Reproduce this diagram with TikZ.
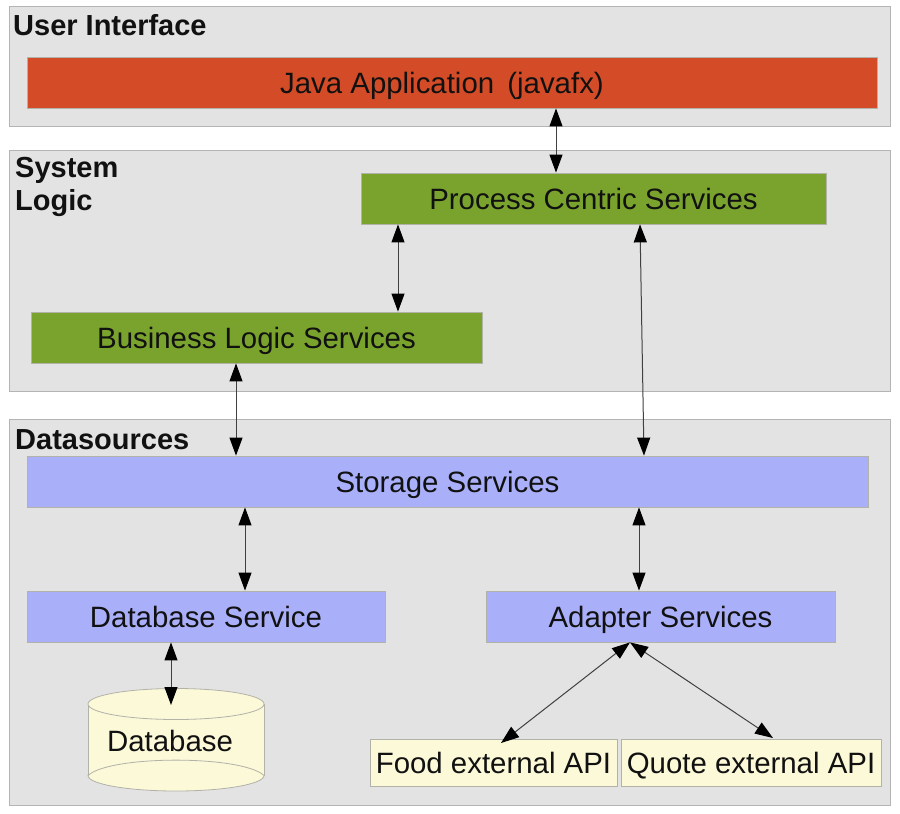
\documentclass[tikz,border=0pt]{standalone}
\usepackage{fontspec}
\setmainfont{Liberation Sans}
\usetikzlibrary{arrows.meta}
\definecolor{panelgrey}{HTML}{E3E3E3}
\definecolor{panelline}{HTML}{B4B4B4}
\definecolor{boxline}{HTML}{B2B2A8}
\definecolor{redfill}{HTML}{D34C27}
\definecolor{greenfill}{HTML}{7AA32E}
\definecolor{bluefill}{HTML}{A9AFF9}
\definecolor{creamfill}{HTML}{FCF9D9}
\definecolor{inktext}{HTML}{111111}
\newcommand{\boxat}[7]{\node[#1,minimum width=#5*1pt-#3*1pt,minimum height=#6*1pt-#4*1pt] (#2) at ({(#3+#5)/2},{(#4+#6)/2}) {#7};}
\tikzset{
  x=1pt,y=-1pt,
  panel/.style={rectangle,draw=panelline,fill=panelgrey,line width=1pt,inner sep=0pt},
  svc/.style={rectangle,draw=boxline,line width=.8pt,inner sep=0pt,text=inktext,text height=22pt,text depth=0pt,font=\fontsize{29.4}{32}\selectfont},
  title/.style={anchor=west,inner sep=0pt,text=inktext,font=\fontsize{29}{33}\bfseries\selectfont,align=left},
  link/.style={draw=black!75,line width=1pt,{Triangle[length=18pt,width=13pt,color=black]}-{Triangle[length=18pt,width=13pt,color=black]}}
}
\begin{document}
\begin{tikzpicture}
\useasboundingbox (0,0) rectangle (900,814);
\fill[white] (0,0) rectangle (900,814);
\boxat{panel}{ui}{9}{6}{890}{126}{}
\boxat{panel}{sys}{9}{150}{890}{391}{}
\boxat{panel}{ds}{9}{419}{890}{805}{}
\node[title] (tui) at (13,25) {User Interface};
\node[title] (tsys) at (15,187) {System\\Logic};
\node[title] (tds) at (15,440) {Datasources};
\boxat{svc,fill=redfill}{java}{27}{57}{877}{108}{Java Application\hspace{5pt} (javafx)\kern20pt}
\boxat{svc,fill=greenfill}{pcs}{361}{173}{826}{224}{Process Centric Services}
\boxat{svc,fill=greenfill}{bls}{31}{312}{482}{363}{Business Logic Services}
\boxat{svc,fill=bluefill}{store}{27}{456}{868}{507}{Storage Services}
\boxat{svc,fill=bluefill}{dbs}{27}{591}{385}{642}{Database Service}
\boxat{svc,fill=bluefill}{adp}{486}{591}{835}{642}{Adapter Services}
\boxat{svc,fill=creamfill}{food}{370}{739}{617}{786}{Food external API}
\boxat{svc,fill=creamfill}{quote}{621}{739}{881}{786}{Quote external API}
% cylinder
\fill[creamfill] (88,704) rectangle (264,775.5);
\draw[draw=boxline,line width=.8pt,fill=creamfill] (176,775.5) ellipse[x radius=88,y radius=15.5];
\fill[creamfill] (88.4,704) rectangle (263.6,775.5);
\draw[draw=boxline,line width=.8pt] (88,704) -- (88,775.5) (264,704) -- (264,775.5);
\draw[draw=boxline,line width=.8pt] (88,775.5) .. controls (110,755) and (242,755) .. (264,775.5);
\draw[draw=boxline,line width=.8pt,fill=creamfill] (176,704) ellipse[x radius=88,y radius=15.5];
\node[svc,draw=none] (db) at (170,740) {Database};
\coordinate (dbtop) at (171,705);
\coordinate (a) at (556,0);
\coordinate (b) at (398,0);
\coordinate (c) at (640,0);
\coordinate (cc) at (644,0);
\coordinate (d) at (236,0);
\coordinate (e) at (245,0);
\coordinate (f) at (639,0);
\coordinate (g) at (171,0);
\coordinate (h) at (630,0);
\coordinate (foodtip) at (501,743);
\coordinate (quotetip) at (773,738);
\draw[link] (java.south -| a) -- (pcs.north -| a);
\draw[link] (pcs.south -| b) -- (bls.north -| b);
\draw[link] (pcs.south -| c) -- (store.north -| cc);
\draw[link] (bls.south -| d) -- (store.north -| d);
\draw[link] (store.south -| e) -- (dbs.north -| e);
\draw[link] (store.south -| f) -- (adp.north -| f);
\draw[link] (dbs.south -| g) -- (dbtop);
\draw[link] (adp.south -| h) -- (foodtip);
\draw[link] (adp.south -| h) -- (quotetip);
\end{tikzpicture}
\end{document}
